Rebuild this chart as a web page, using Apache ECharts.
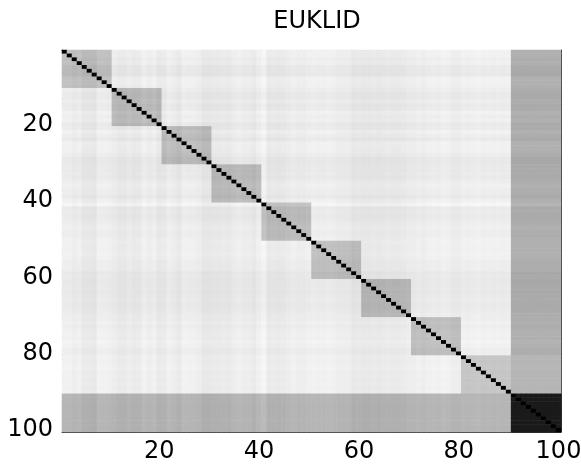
<!DOCTYPE html>
<html>
<head>
<meta charset="utf-8">
<script src="https://cdn.jsdelivr.net/npm/echarts@6/dist/echarts.min.js"></script>
<style>
  html, body { margin: 0; padding: 0; background: #fff; }
  #chart { width: 581px; height: 470px; }
</style>
</head>
<body>
<div id="chart"></div>
<script>
// 100 objects, 10 clusters of 10
const indices = Array.from({ length: 100 }, (_, i) => String(i + 1))
const tickLabels = ['20', '40', '60', '80', '100']

// grey level of each cluster block (0 = black, 1 = white)
const blockGrey = [
  [0.73, 0.92, 0.92, 0.92, 0.92, 0.92, 0.92, 0.92, 0.92, 0.68],
  [0.92, 0.73, 0.92, 0.92, 0.92, 0.92, 0.92, 0.92, 0.92, 0.68],
  [0.92, 0.92, 0.73, 0.92, 0.92, 0.92, 0.92, 0.92, 0.92, 0.68],
  [0.92, 0.92, 0.92, 0.73, 0.92, 0.92, 0.92, 0.92, 0.92, 0.68],
  [0.92, 0.92, 0.92, 0.92, 0.73, 0.92, 0.92, 0.92, 0.92, 0.68],
  [0.92, 0.92, 0.92, 0.92, 0.92, 0.73, 0.92, 0.92, 0.92, 0.68],
  [0.92, 0.92, 0.92, 0.92, 0.92, 0.92, 0.73, 0.92, 0.92, 0.68],
  [0.92, 0.92, 0.92, 0.92, 0.92, 0.92, 0.92, 0.73, 0.92, 0.68],
  [0.92, 0.92, 0.92, 0.92, 0.92, 0.92, 0.92, 0.92, 0.75, 0.70],
  [0.70, 0.70, 0.70, 0.70, 0.70, 0.70, 0.70, 0.70, 0.70, 0.10],
]

// per-object shade offset (the streaks across rows / columns)
const streak = [
  0.015, 0.015, 0.00, 0.01, -0.015, -0.015, -0.02, 0.015, 0.015, 0.01,
  0.00, -0.015, -0.015, 0.00, -0.015, -0.01, 0.015, 0.00, 0.01, -0.015,
  -0.01, 0.015, 0.00, -0.015, 0.015, 0.01, 0.01, 0.00, -0.02, -0.02,
  -0.015, -0.015, -0.01, -0.015, 0.00, 0.01, 0.00, 0.00, -0.015, 0.01,
  0.03, -0.015, -0.01, -0.015, -0.01, 0.00, 0.01, 0.00, 0.00, 0.01,
  0.015, 0.01, 0.01, 0.015, 0.01, 0.00, 0.00, 0.00, -0.02, -0.015,
  -0.02, -0.02, -0.015, -0.02, -0.015, -0.01, -0.015, -0.015, -0.01, 0.00,
  0.00, 0.01, 0.00, 0.01, 0.015, 0.01, 0.02, 0.015, 0.00, 0.00,
  0.015, 0.01, 0.015, 0.02, 0.01, 0.015, 0.01, 0.015, 0.01, 0.015,
  0.00, 0.00, 0.00, 0.00, 0.00, 0.00, 0.00, 0.00, 0.00, 0.00,
]

const cells = []
for (let i = 0; i < 100; i += 1) {
  for (let j = 0; j < 100; j += 1) {
    const g = i === j ? 0 : blockGrey[Math.floor(i / 10)][Math.floor(j / 10)] + streak[i] + streak[j]
    cells.push([j, i, Math.max(0, Math.min(1, g))])
  }
}

const isTick = (idx) => tickLabels.indexOf(String(idx + 1)) >= 0
const font = { fontFamily: 'DejaVu Sans, sans-serif', fontSize: 24, color: '#000' }
const line = { show: true, lineStyle: { color: '#333', width: 1 } }
const tick = { show: true, inside: true, length: 5, alignWithLabel: true, interval: isTick, lineStyle: { color: '#333' } }

const chart = echarts.init(document.getElementById('chart'), null, { renderer: 'canvas' })
chart.setOption({
  animation: false,
  title: {
    text: 'EUKLID',
    left: 312,
    textAlign: 'center',
    top: 5,
    textStyle: { ...font, fontWeight: 'normal' },
  },
  grid: { left: 62, top: 50, width: 499, height: 382, outerBoundsMode: 'none', containLabel: false },
  xAxis: [
    {
      type: 'category', data: indices, position: 'bottom',
      axisLine: line, axisTick: tick, splitLine: { show: false },
      axisLabel: { ...font, interval: isTick, margin: 8 },
    },
    {
      type: 'category', data: indices, position: 'top',
      axisLine: line, axisTick: tick, axisLabel: { show: false }, splitLine: { show: false },
    },
  ],
  yAxis: [
    {
      type: 'category', data: indices, inverse: true, position: 'left',
      axisLine: line, axisTick: tick, splitLine: { show: false },
      axisLabel: { ...font, interval: isTick, margin: 9 },
    },
    {
      type: 'category', data: indices, inverse: true, position: 'right',
      axisLine: line, axisTick: tick, axisLabel: { show: false }, splitLine: { show: false },
    },
  ],
  visualMap: {
    show: false,
    type: 'continuous',
    min: 0,
    max: 1,
    dimension: 2,
    inRange: { color: ['#000000', '#ffffff'] },
  },
  series: [
    {
      type: 'heatmap',
      xAxisIndex: 0,
      yAxisIndex: 0,
      data: cells,
      progressive: 0,
      itemStyle: { borderWidth: 0 },
      emphasis: { disabled: true },
    },
  ],
})
</script>
</body>
</html>
